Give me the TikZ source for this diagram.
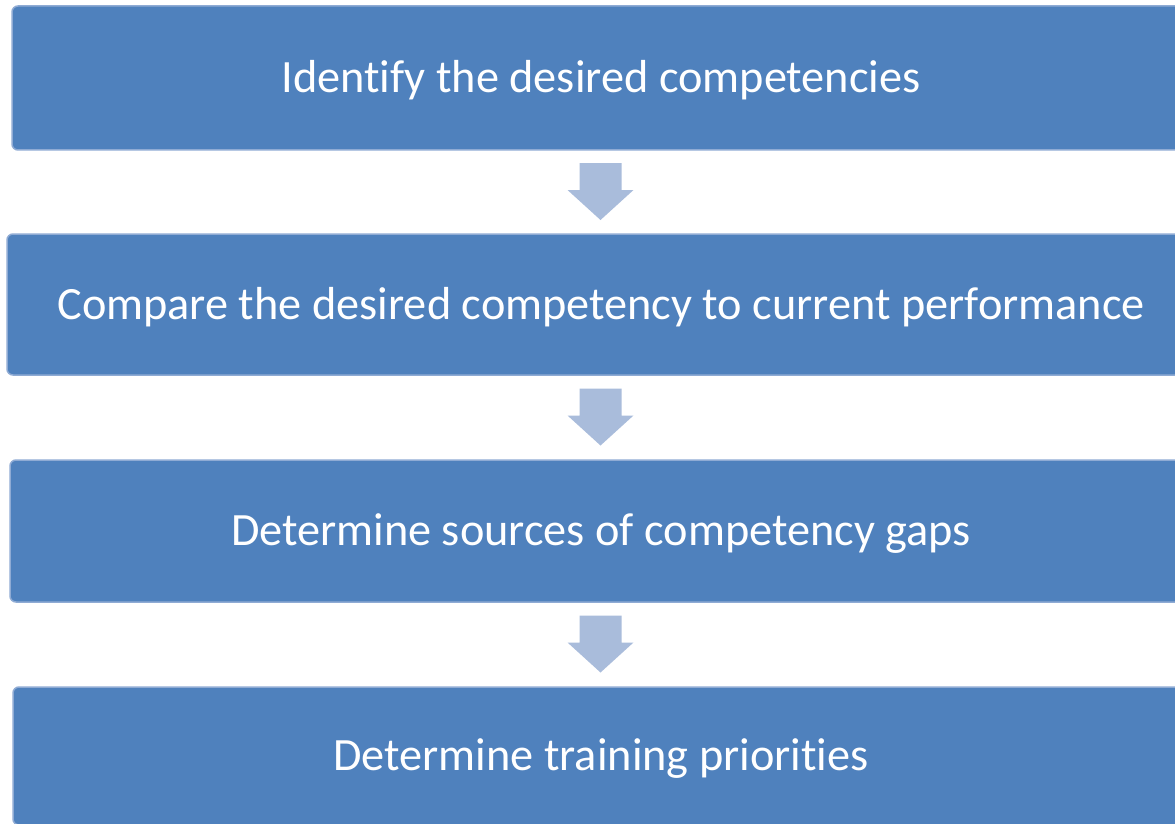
\documentclass[tikz,border=0pt]{standalone}
\usepackage{fontspec}
\setmainfont[Ligatures=NoCommon]{Carlito}
\usetikzlibrary{calc}
\definecolor{boxblue}{HTML}{4F81BD}
\definecolor{boxedge}{HTML}{8FABD4}
\definecolor{arrowblue}{HTML}{A9BCDB}
\tikzset{
  stepbox/.style={rectangle, rounded corners=6pt, fill=boxblue, draw=boxedge, line width=1.5pt,
    text=white, font=\fontsize{46.3}{50}\selectfont, inner sep=0pt, text height=29.8pt, text depth=0pt},
}
\newcommand{\downarrowat}[1]{%
  \fill[arrowblue] ($(#1)+(-21,-29)$) -- ($(#1)+(21,-29)$) -- ($(#1)+(21,-2)$) -- ($(#1)+(33,-2)$)
    -- ($(#1)+(0,28)$) -- ($(#1)+(-33,-2)$) -- ($(#1)+(-21,-2)$) -- cycle;}
\begin{document}
\begin{tikzpicture}[x=1pt,y=-1pt]
\useasboundingbox (0,0) rectangle (1175,824);
\fill[white] (0,0) rectangle (1175,824);
\node[stepbox, minimum width=1178pt, minimum height=144pt] (b1) at (601,78) {Identify the desired competencies};
\node[stepbox, minimum width=1188pt, minimum height=141pt] (b2) at (601,304.5) {Compare the desired competency to current performance};
\node[stepbox, minimum width=1182pt, minimum height=142pt] (b3) at (601,531) {Determine sources of competency gaps};
\node[stepbox, minimum width=1176pt, minimum height=138pt] (b4) at (601,756) {Determine training priorities};
\coordinate (a1) at ($(b1.south)!0.5!(b2.north)+(-0.5,0)$);
\coordinate (a2) at ($(b2.south)!0.5!(b3.north)+(-0.5,0)$);
\coordinate (a3) at ($(b3.south)!0.5!(b4.north)+(-0.5,0)$);
\downarrowat{a1}
\downarrowat{a2}
\downarrowat{a3}
\end{tikzpicture}
\end{document}
